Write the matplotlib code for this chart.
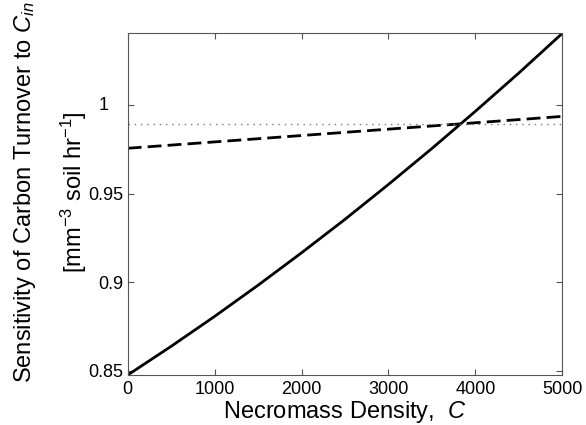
import matplotlib
matplotlib.use('Agg')
import matplotlib.pyplot as plt

plt.rcParams['font.family'] = ['Liberation Sans', 'DejaVu Sans']
plt.rcParams['mathtext.fontset'] = 'custom'
plt.rcParams['mathtext.rm'] = 'Liberation Sans'
plt.rcParams['mathtext.it'] = 'Liberation Sans:italic'

# data
necromass = [0, 500, 1000, 1500, 2000, 2500, 3000, 3500, 4000, 4500, 5000]
solid_vals = [0.8476, 0.8638, 0.8807, 0.8983, 0.9166, 0.9355, 0.9552, 0.9755, 0.9965, 1.0181, 1.0405]
dashed_vals = [0.9756, 0.9774, 0.9792, 0.9810, 0.9828, 0.9846, 0.9864, 0.9882, 0.9900, 0.9918, 0.9936]
dotted_level = 0.9895

x_ticks = [0, 1000, 2000, 3000, 4000, 5000]
y_ticks = [0.85, 0.9, 0.95, 1.0]
y_tick_labels = ['0.85', '0.9', '0.95', '']

fig = plt.figure(figsize=(5.86, 4.25), dpi=100)
ax = fig.add_axes([0.2179, 0.1176, 0.7417, 0.8040])

ax.plot(necromass, solid_vals, color='black', lw=2.0, solid_capstyle='butt')
ax.plot(necromass, dashed_vals, color='black', lw=2.0, dashes=(5, 2.2))
ax.plot([necromass[0], necromass[-1]], [dotted_level, dotted_level],
        color='#777777', lw=1.0, dashes=(1, 3.5))

ax.set_xlim(0, 5000)
ax.set_ylim(min(solid_vals), max(solid_vals))
ax.set_xticks(x_ticks)
ax.set_yticks(y_ticks)
ax.set_yticklabels(y_tick_labels)

ax.tick_params(direction='in', length=4, width=0.8, color='#555555',
               top=True, right=True, labelsize=13)
ax.tick_params(axis='x', pad=4)
ax.tick_params(axis='y', pad=3)
for s in ax.spines.values():
    s.set_color('#555555')
    s.set_linewidth(0.8)

# the "1" label sits further left than the others in the original
ax.annotate('1', xy=(0, 1.0), xycoords=('axes fraction', 'data'),
            xytext=(-14, 0), textcoords='offset points',
            ha='right', va='center', fontsize=13)

ax.set_xlabel('Necromass Density,  $C$', fontsize=17, labelpad=1)

fig.text(25 / 586, 1 - 192 / 425, 'Sensitivity of Carbon Turnover to $C_{in}$',
         rotation=90, ha='center', va='center', fontsize=17)
fig.text(74 / 586, 1 - 192 / 425, '[mm$^{-3}$ soil hr$^{-1}$]',
         rotation=90, ha='center', va='center', fontsize=17)

fig.savefig('out.png', dpi=100)
